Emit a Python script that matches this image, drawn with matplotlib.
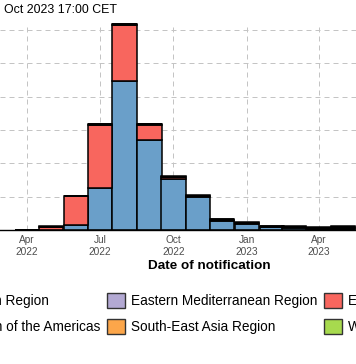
import matplotlib
matplotlib.use("Agg")
import matplotlib.pyplot as plt
import matplotlib.dates as mdates
from matplotlib.patches import Patch
from datetime import datetime, timedelta

# monthly confirmed cases by WHO region
months = ["2022-04", "2022-05", "2022-06", "2022-07", "2022-08", "2022-09", "2022-10",
          "2022-11", "2022-12", "2023-01", "2023-02", "2023-03", "2023-04", "2023-05"]
americas = [0, 20, 700, 6300, 22350, 13500, 7650, 5000, 1400, 900, 400, 350, 120, 150]
european = [30, 480, 4400, 9450, 8400, 2300, 300, 120, 100, 80, 60, 60, 70, 90]
african = [10, 20, 40, 60, 60, 40, 30, 20, 40, 40, 30, 30, 60, 80]
eastern_med = [0, 5, 10, 20, 20, 15, 10, 10, 20, 20, 20, 20, 40, 60]
se_asia = [0, 0, 5, 10, 15, 10, 10, 10, 30, 30, 30, 40, 60, 80]
w_pacific = [0, 5, 20, 50, 100, 60, 40, 40, 60, 100, 80, 100, 80, 120]

colors = {
    "African Region": "#2A8C82",
    "Region of the Americas": "#6A9FC9",
    "Eastern Mediterranean Region": "#B3A9D3",
    "South-East Asia Region": "#FCA64A",
    "European Region": "#F8665E",
    "Western Pacific Region": "#A7DA4E",
}

dates = [datetime.strptime(m, "%Y-%m") for m in months]

fig = plt.figure(figsize=(3.56, 3.64), dpi=100)
ax = fig.add_axes([0, 0.3681, 1, 0.5687])

# stack: Americas at the bottom, Europe next, the rest on top
stack = [("Region of the Americas", americas), ("European Region", european),
         ("African Region", african), ("Eastern Mediterranean Region", eastern_med),
         ("South-East Asia Region", se_asia), ("Western Pacific Region", w_pacific)]
bottom = [0] * len(months)
for name, vals in stack:
    ax.bar(dates, vals, width=30.4, bottom=bottom, color=colors[name],
           edgecolor="black", linewidth=1.1, zorder=2)
    bottom = [b + v for b, v in zip(bottom, vals)]

start = datetime(2022, 4, 1)
ax.set_xlim(start - timedelta(days=33.75), datetime(2023, 4, 1) + timedelta(days=46.25))
ax.set_ylim(0, 31050)
ax.set_yticks(range(0, 30001, 5000))
ax.xaxis.set_major_locator(mdates.MonthLocator(bymonth=[1, 4, 7, 10]))
ax.xaxis.set_major_formatter(mdates.DateFormatter("%b\n%Y"))
ax.tick_params(axis="x", length=0, pad=3.6, labelsize=7.3, labelcolor="#4D4D4D")
ax.tick_params(axis="y", length=0, labelleft=False)

ax.set_axisbelow(True)
ax.grid(color="#C4C4C4", linestyle=(0, (5, 4)), linewidth=0.72)
for s in ["top", "right", "left"]:
    ax.spines[s].set_visible(False)
ax.spines["bottom"].set_color("black")
ax.spines["bottom"].set_linewidth(1.0)
ax.spines["bottom"].set_zorder(3)

ax.set_xlabel("Date of notification", fontsize=9.7, fontweight="bold",
              family="Liberation Sans")
ax.xaxis.set_label_coords(209 / 356, -0.172)
ax.xaxis.label.set_va("center")

for lab in ax.get_xticklabels():
    lab.set_family("Liberation Sans")

fig.text(4 / 356, 1 - 10 / 364, "Oct 2023 17:00 CET", ha="left",
         va="center", fontsize=8.9, family="Liberation Sans")

order = ["African Region", "Region of the Americas", "Eastern Mediterranean Region",
         "South-East Asia Region", "European Region", "Western Pacific Region"]
handles = [Patch(facecolor=colors[n], edgecolor="#333333", linewidth=1.0, label=n) for n in order]
fig.legend(handles=handles, ncol=3, loc="upper left", bbox_to_anchor=(-65 / 356, 1 - 293 / 364),
           frameon=False, borderpad=0, borderaxespad=0, handlelength=1.32, handleheight=1.32,
           handletextpad=0.44, columnspacing=0.5, labelspacing=0.81,
           prop={"family": "Liberation Sans", "size": 9.8})

fig.savefig("out.png", dpi=100)
